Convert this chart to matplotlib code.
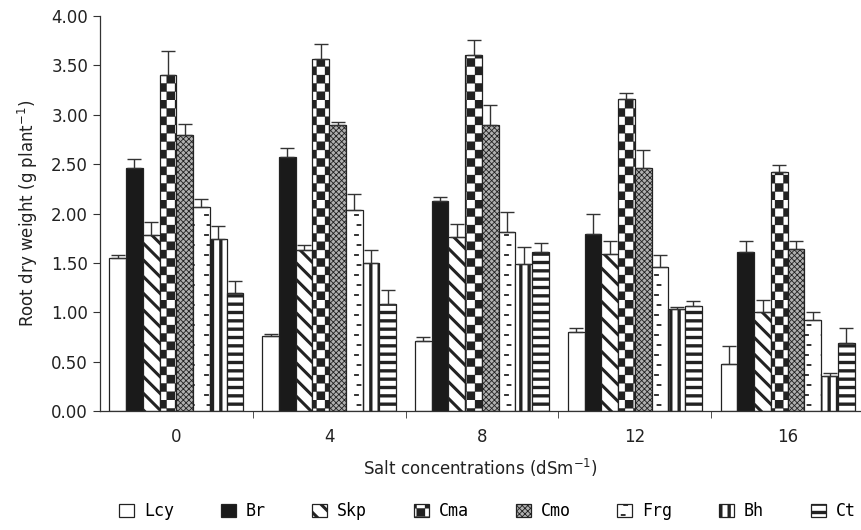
import warnings
import matplotlib
matplotlib.use('Agg')
import matplotlib.pyplot as plt
import matplotlib.hatch as mhatch
import numpy as np
from matplotlib.path import Path

warnings.filterwarnings('ignore')

salt_levels = ['0', '4', '8', '12', '16']
genotypes = ['Lcy', 'Br', 'Skp', 'Cma', 'Cmo', 'Frg', 'Bh', 'Ct']

# mean root dry weight per salt level
lcy = [1.55, 0.76, 0.71, 0.80, 0.48]
br = [2.46, 2.57, 2.13, 1.79, 1.61]
skp = [1.78, 1.63, 1.76, 1.59, 1.00]
cma = [3.40, 3.56, 3.61, 3.16, 2.42]
cmo = [2.79, 2.90, 2.90, 2.46, 1.64]
frg = [2.07, 2.04, 1.81, 1.46, 0.92]
bh = [1.74, 1.50, 1.49, 1.03, 0.35]
ct = [1.19, 1.08, 1.61, 1.06, 0.69]

# standard errors (upper bars only)
lcy_se = [0.03, 0.02, 0.04, 0.04, 0.18]
br_se = [0.09, 0.09, 0.04, 0.21, 0.11]
skp_se = [0.13, 0.05, 0.13, 0.13, 0.12]
cma_se = [0.25, 0.16, 0.15, 0.06, 0.07]
cmo_se = [0.12, 0.03, 0.20, 0.18, 0.08]
frg_se = [0.08, 0.16, 0.21, 0.12, 0.08]
bh_se = [0.13, 0.13, 0.17, 0.02, 0.04]
ct_se = [0.13, 0.15, 0.09, 0.05, 0.15]


class CheckerHatch(mhatch.HatchPatternBase):
    """Filled checkerboard squares, 'c' in the hatch string."""

    def __init__(self, hatch, density):
        self.n = hatch.count('c') * density
        self.num_vertices = (self.n * self.n // 2) * 5 if self.n else 0

    def set_vertices_and_codes(self, vertices, codes):
        s = 1.0 / self.n
        k = 0
        for i in range(self.n):
            for j in range(self.n):
                if (i + j) % 2:
                    continue
                x0, y0 = i * s, j * s
                vertices[k:k + 5] = [[x0, y0], [x0 + s, y0],
                                     [x0 + s, y0 + s], [x0, y0 + s],
                                     [x0, y0]]
                codes[k:k + 5] = [Path.MOVETO, Path.LINETO, Path.LINETO,
                                  Path.LINETO, Path.CLOSEPOLY]
                k += 5

    get_vertices_and_codes = set_vertices_and_codes


class DashHatch(mhatch.HatchPatternBase):
    """Short staggered dashes, 'f' in the hatch string."""

    def __init__(self, hatch, density):
        self.on = hatch.count('f') > 0
        self.rows, self.cols = 10, 6
        self.num_vertices = self.rows * self.cols * 2 if self.on else 0

    def set_vertices_and_codes(self, vertices, codes):
        k = 0
        for r in range(self.rows):
            y = (r + 0.5) / self.rows
            for c in range(self.cols):
                x0 = (c + 0.3 + 0.15 * (r % 2)) / self.cols
                vertices[k:k + 2] = [[x0, y], [x0 + 0.03, y]]
                codes[k:k + 2] = [Path.MOVETO, Path.LINETO]
                k += 2

    get_vertices_and_codes = set_vertices_and_codes


mhatch._hatch_types.append(CheckerHatch)
mhatch._hatch_types.append(DashHatch)

plt.rcParams['font.family'] = ['DejaVu Sans']

series = [lcy, br, skp, cma, cmo, frg, bh, ct]
errors = [lcy_se, br_se, skp_se, cma_se, cmo_se, frg_se, bh_se, ct_se]
faces = ['white', '#1a1a1a', 'white', 'white', '#b0b0b0', 'white',
         'white', 'white']
hatches = [None, None, '\\\\', 'cc', 'xxxxxx', 'f', '||', '--']
hatch_lw = [1.0, 1.0, 2.2, 0.2, 0.6, 1.3, 2.4, 2.4]

fig = plt.figure(figsize=(8.61, 5.30), dpi=100)
ax = fig.add_axes([0.116, 0.2245, 0.884, 0.7453])

x = np.arange(len(salt_levels))
width = 0.1096
handles = []
for i, name in enumerate(genotypes):
    plt.rcParams['hatch.linewidth'] = hatch_lw[i]
    offs = (i - 3.5) * width
    bars = ax.bar(x + offs, series[i], width, color=faces[i],
                  edgecolor='#222222', linewidth=0.9, hatch=hatches[i],
                  label=name, zorder=2)
    ax.errorbar(x + offs, series[i],
                yerr=[np.zeros(len(errors[i])), errors[i]],
                fmt='none', ecolor='#333333', elinewidth=1.0,
                capsize=5, capthick=1.0, zorder=3)
    handles.append(bars)

ax.set_xlim(-0.5, 4.48)
ax.set_ylim(0, 4.0)
ax.set_yticks(np.arange(0, 4.01, 0.5))
ax.set_yticklabels(['%.2f' % v for v in np.arange(0, 4.01, 0.5)],
                   fontsize=12, color='#222222')
ax.set_xticks(x)
ax.set_xticklabels(salt_levels, fontsize=12, color='#222222')
ax.set_xticks(np.arange(0.5, 4.5, 1.0), minor=True)
ax.tick_params(axis='x', which='major', length=0, pad=12)
ax.tick_params(axis='x', which='minor', length=5, direction='out',
               color='#333333')
ax.tick_params(axis='y', length=5, direction='out', color='#333333')

for side in ['top', 'right']:
    ax.spines[side].set_visible(False)
for side in ['left', 'bottom']:
    ax.spines[side].set_color('#333333')
    ax.spines[side].set_linewidth(0.9)

ax.set_ylabel('Root dry weight (g plant$^{-1}$)', fontsize=12,
              color='#222222', labelpad=8)
ax.set_xlabel('Salt concentrations (dSm$^{-1}$)', fontsize=12,
              color='#222222', labelpad=8)

leg = fig.legend(handles=handles, labels=genotypes, loc='lower center',
                 bbox_to_anchor=(0.566, -0.01), ncol=8, frameon=False,
                 handlelength=0.9, handleheight=0.9, handletextpad=0.6,
                 columnspacing=2.8,
                 prop={'family': 'DejaVu Sans Mono', 'size': 12})
for patch, lw in zip(leg.legend_handles, hatch_lw):
    if hasattr(patch, 'set_hatch_linewidth'):
        patch.set_hatch_linewidth(lw)
    else:
        patch._hatch_linewidth = lw

fig.savefig('out.png', dpi=100)
